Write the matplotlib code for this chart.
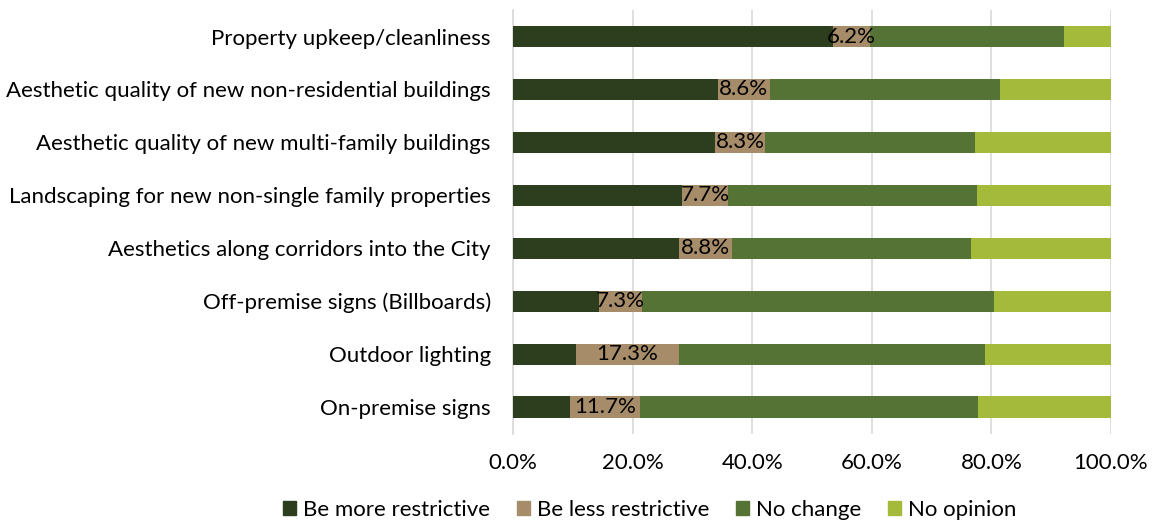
import matplotlib
matplotlib.use("Agg")
import matplotlib.pyplot as plt
from matplotlib.patches import Patch

# datos (en %), de arriba hacia abajo
categories = [
    "Property upkeep/cleanliness",
    "Aesthetic quality of new non-residential buildings",
    "Aesthetic quality of new multi-family buildings",
    "Landscaping for new non-single family properties",
    "Aesthetics along corridors into the City",
    "Off-premise signs (Billboards)",
    "Outdoor lighting",
    "On-premise signs",
]
more_restrictive = [53.5, 34.3, 33.8, 28.3, 27.8, 14.3, 10.5, 9.5]
less_restrictive = [6.2, 8.6, 8.3, 7.7, 8.8, 7.3, 17.3, 11.7]
no_change = [32.4, 38.6, 35.2, 41.6, 40.0, 58.9, 51.2, 56.5]
no_opinion = [7.9, 18.5, 22.7, 22.4, 23.4, 19.5, 21.0, 22.3]
series_names = ["Be more restrictive", "Be less restrictive", "No change", "No opinion"]
colors = ["#2d3e1f", "#a68c69", "#557334", "#a3ba3a"]

plt.rcParams["font.family"] = ["Lato", "DejaVu Sans"]
fs = 16

fig = plt.figure(figsize=(11.58, 5.29), dpi=100)
ax = fig.add_axes([0.443, 0.1805, 0.5164, 0.8005])

y = list(range(len(categories)))
left = [0.0] * len(categories)
for vals, col, name in zip([more_restrictive, less_restrictive, no_change, no_opinion], colors, series_names):
    bars = ax.barh(y, vals, left=left, height=0.4, color=col, label=name, zorder=3)
    if name == "Be less restrictive":
        ax.bar_label(bars, labels=[f"{v:.1f}%" for v in vals], label_type="center",
                     fontsize=fs, color="black", zorder=4)
    left = [l + v for l, v in zip(left, vals)]

ax.set_xlim(0, 100)
ax.set_ylim(len(categories) - 0.5, -0.5)
ax.set_yticks(y)
ax.set_yticklabels(categories, fontsize=fs)
ax.set_xticks([0, 20, 40, 60, 80, 100])
ax.set_xticklabels([f"{t:.1f}%" for t in [0, 20, 40, 60, 80, 100]], fontsize=fs)
ax.tick_params(axis="both", length=0)
ax.tick_params(axis="y", pad=16)
ax.tick_params(axis="x", pad=14)
ax.grid(axis="x", color="#d9d9d9", linewidth=1.2, zorder=0)
for s in ["top", "right", "bottom"]:
    ax.spines[s].set_visible(False)
ax.spines["left"].set_color("#d9d9d9")
ax.spines["left"].set_linewidth(1.2)

handles = [Patch(color=c, label=n) for c, n in zip(colors, series_names)]
fig.legend(handles=handles, loc="lower center", bbox_to_anchor=(0.561, -0.02), ncol=4,
           frameon=False, fontsize=fs, handlelength=0.6, handleheight=0.6,
           handletextpad=0.3, columnspacing=1.2)

fig.savefig("out.png", dpi=100)
